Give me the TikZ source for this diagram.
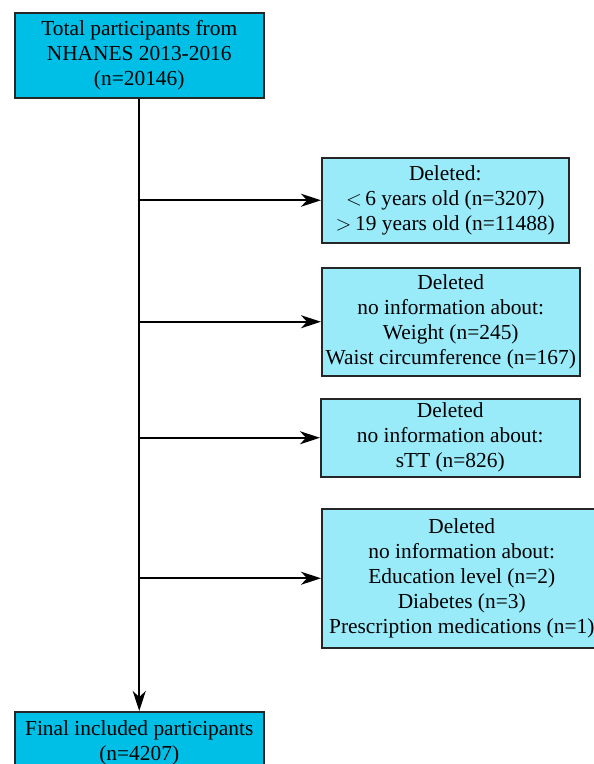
\documentclass[tikz,border=0pt]{standalone}
\usepackage{fontspec}
\setmainfont{Liberation Serif}
\usetikzlibrary{arrows.meta}
\definecolor{darkcyan}{RGB}{0,191,230}
\definecolor{lightcyan}{RGB}{153,235,250}
\begin{document}
\begin{tikzpicture}[x=1pt,y=-1pt,
  box/.style={draw=black!85, line width=1.5pt, anchor=north west, inner sep=0pt, align=center, font=\fontsize{21.4}{25}\selectfont},
  mainbox/.style={box, fill=darkcyan},
  sidebox/.style={box, fill=lightcyan},
  conn/.style={line width=1.8pt, -{Stealth[length=20pt,width=13pt,inset=6pt]}}]
\useasboundingbox (0,0) rectangle (594,764);
\clip (0,0) rectangle (594,764);
\node[mainbox, minimum width=249pt, minimum height=85pt] (top) at (14,12) {Total participants from\\NHANES 2013-2016\\(n=20146)};
\node[sidebox, minimum width=247pt, minimum height=85pt] (b1) at (321,157) {Deleted:\\$<$\,6 years old (n=3207)\\$>$\,19 years old (n=11488)};
\node[sidebox, minimum width=258pt, minimum height=108pt] (b2) at (321,267) {Deleted\\no information about:\\Weight (n=245)\\Waist circumference (n=167)};
\node[sidebox, minimum width=259pt, minimum height=78pt] (b3) at (320,398) {Deleted\\no information about:\\sTT (n=826)};
\node[sidebox, minimum width=280pt, minimum height=139pt] (b4) at (321,508) {Deleted\\no information about:\\Education level (n=2)\\Diabetes (n=3)\\Prescription medications (n=1)};
\node[mainbox, minimum width=249pt, minimum height=63pt] (final) at (14,711) {Final included participants\\(n=4207)};
\draw[conn] (top.south) -- (final.north);
\foreach \b in {b1,b2,b3,b4} \draw[conn] (top.south |- \b.west) -- (\b.west);
\end{tikzpicture}
\end{document}
